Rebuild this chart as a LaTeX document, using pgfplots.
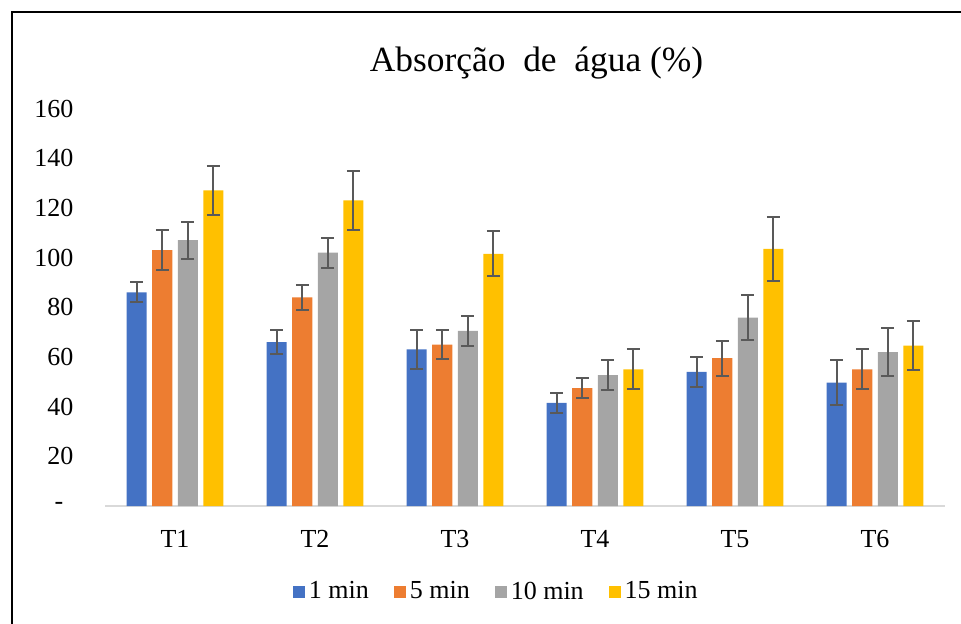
\documentclass[border=0pt]{standalone}
\usepackage{pgfplots}
\pgfplotsset{compat=1.18}
\usepackage{fontspec}
\setmainfont{Liberation Serif}

\definecolor{c1}{HTML}{4472C4}
\definecolor{c2}{HTML}{ED7D31}
\definecolor{c3}{HTML}{A5A5A5}
\definecolor{c4}{HTML}{FFC000}
\definecolor{errgray}{HTML}{595959}
\definecolor{axgray}{HTML}{D9D9D9}

\pgfplotsset{
  errb/.style={
    error bars/y dir=both, error bars/y explicit,
    error bars/error bar style={color=errgray, line width=1pt},
    error bars/error mark options={rotate=90, mark size=3.2pt, line width=1pt, color=errgray},
  },
}

% x, value, error
\pgfplotstableread{
x y e
0 86 4
1 66 5
2 63 8
3 41.5 4
4 54 6
5 49.7 9
}\onemin
\pgfplotstableread{
x y e
0 103 8
1 84 5
2 65 6
3 47.5 4
4 59.5 7
5 55 8
}\fivemin
\pgfplotstableread{
x y e
0 107 7.5
1 102 6
2 70.5 6
3 52.7 6
4 75.8 9
5 61.9 9.6
}\tenmin
\pgfplotstableread{
x y e
0 127 10
1 123 12
2 101.5 9
3 55 8
4 103.5 13
5 64.6 10
}\fifteenmin

\begin{document}
\begin{tikzpicture}
\useasboundingbox (0,0) rectangle (480.5pt,311.5pt);
\begin{axis}[
    at={(52.5pt,58.5pt)}, anchor=south west,
    scale only axis,
    width=420pt, height=198.75pt,
    ybar=2.75pt, bar width=0.143,
    xmin=-0.5, xmax=5.5,
    ymin=0, ymax=160,
    xtick=data,
    xticklabels={T1,T2,T3,T4,T5,T6},
    ytick={0,20,...,160},
    yticklabels={-\hspace{5pt}\mbox{},20,40,60,80,100,120,140,160},
    axis x line=bottom, axis y line=left,
    x axis line style={draw=axgray, line width=1pt, -},
    y axis line style={draw=none},
    tick style={draw=none},
    tick label style={font=\fontsize{13}{15}\selectfont},
    xticklabel style={yshift=-6.5pt},
    yticklabel style={xshift=-10.2pt},
    title={Absorção \ de \ água (\%)},
    title style={at={(0.5137,1.063)}, anchor=base, yshift=0pt, font=\fontsize{17.7}{21}\selectfont},
    legend columns=-1,
    legend style={at={(0.467,-0.216)}, anchor=center, draw=none, fill=none,
        font=\fontsize{13}{15}\selectfont,
        /tikz/every odd column/.append style={column sep=0pt},
        /tikz/every even column/.append style={column sep=10.5pt}},
    legend image code/.code={\fill[#1] (0pt,-3.2pt) rectangle (6pt,2.8pt);},
]
\addplot[fill=c1, draw=none, errb] table[x=x, y=y, y error=e] {\onemin};
\addplot[fill=c2, draw=none, errb] table[x=x, y=y, y error=e] {\fivemin};
\addplot[fill=c3, draw=none, errb] table[x=x, y=y, y error=e] {\tenmin};
\addplot[fill=c4, draw=none, errb] table[x=x, y=y, y error=e] {\fifteenmin};
\legend{1 min,5 min,10 min,15 min}
\end{axis}
\draw[line width=1pt] (5.85pt,-5pt) -- (5.85pt,305.25pt) -- (490pt,305.25pt);
\end{tikzpicture}
\end{document}
